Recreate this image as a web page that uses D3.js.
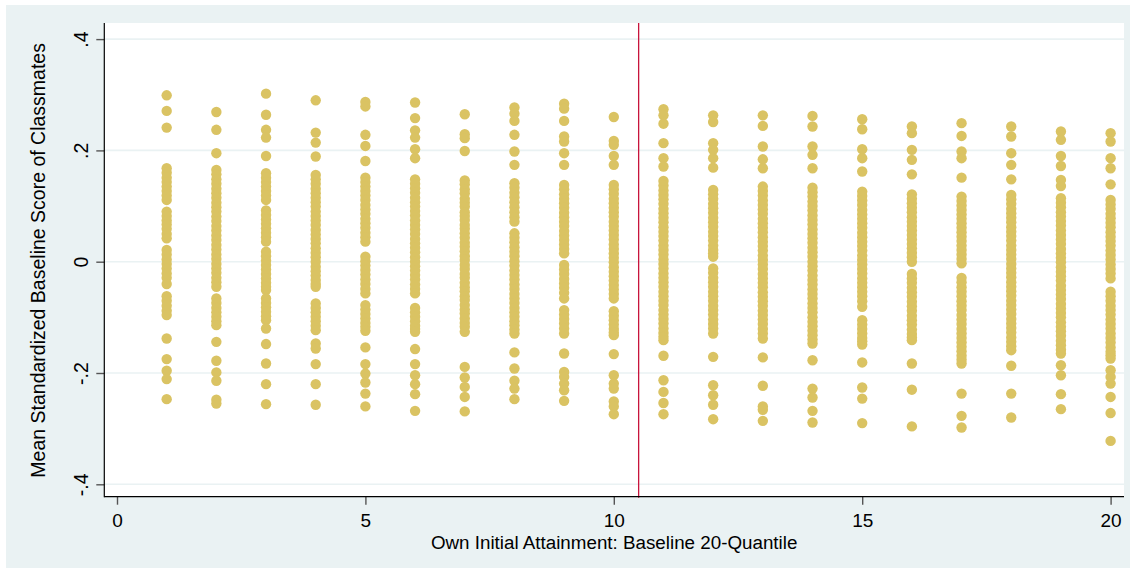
<!DOCTYPE html>
<html>
<head>
<meta charset="utf-8">
<script src="https://cdn.jsdelivr.net/npm/d3@7/dist/d3.min.js"></script>
<style>
  body { margin: 0; background: #ffffff; }
  svg { display: block; }
  text { font-family: "Liberation Sans", Arial, sans-serif; fill: #000; }
</style>
</head>
<body>
<svg id="chart" width="1135" height="572"></svg>
<script>
// Own baseline 20-quantile (x) for each column of classmates' means
const quantiles = [1, 2, 3, 4, 5, 6, 7, 8, 9, 10, 11, 12, 13, 14, 15, 16, 17, 18, 19, 20];

// Mean standardized baseline score of classmates, one list per quantile
const classmateMeans = [
  [0.299, 0.271, 0.241,
   0.168, 0.160, 0.151, 0.143, 0.135, 0.127, 0.119, 0.111,
   0.090, 0.082, 0.074, 0.067, 0.059, 0.050, 0.042,
   0.021, 0.013, 0.004, -0.004, -0.012, -0.021, -0.029, -0.040,
   -0.062, -0.070, -0.079, -0.088, -0.096,
   -0.138, -0.175, -0.196, -0.211, -0.247],
  [0.269, 0.237, 0.195,
   0.165, 0.157, 0.148, 0.140, 0.131, 0.123, 0.115, 0.106, 0.098, 0.090, 0.081, 0.073, 0.064,
   0.056, 0.047, 0.039, 0.030, 0.022, 0.013, 0.005, -0.004, -0.012, -0.020, -0.029, -0.037, -0.045,
   -0.066, -0.074, -0.083, -0.091, -0.099, -0.107, -0.114,
   -0.144, -0.178, -0.199, -0.214, -0.248, -0.255],
  [0.302, 0.264, 0.237, 0.223, 0.190,
   0.159, 0.151, 0.143, 0.135, 0.127, 0.119, 0.111,
   0.092, 0.084, 0.076, 0.068, 0.060, 0.052, 0.044, 0.036,
   0.018, 0.010, 0.002, -0.006, -0.014, -0.022, -0.030, -0.038, -0.045, -0.051,
   -0.066, -0.074, -0.082, -0.090, -0.098, -0.105, -0.120,
   -0.148, -0.183, -0.220, -0.256],
  [0.290, 0.232, 0.214, 0.189,
   0.156, 0.148, 0.140, 0.131, 0.123, 0.115, 0.107, 0.099, 0.090, 0.082, 0.074, 0.066, 0.057,
   0.049, 0.041, 0.033, 0.024, 0.016, 0.008, 0.000, -0.009, -0.017, -0.025, -0.033, -0.040, -0.045,
   -0.075, -0.083, -0.091, -0.099, -0.107, -0.115, -0.123,
   -0.147, -0.156, -0.184, -0.220, -0.257],
  [0.287, 0.279, 0.228, 0.208, 0.181,
   0.151, 0.143, 0.135, 0.127, 0.119, 0.111, 0.102, 0.094, 0.086, 0.077, 0.069, 0.061, 0.052, 0.044, 0.036,
   0.009, 0.001, -0.007, -0.015, -0.023, -0.032, -0.040, -0.049, -0.057,
   -0.078, -0.086, -0.094, -0.102, -0.110, -0.117, -0.124,
   -0.154, -0.184, -0.201, -0.217, -0.237, -0.260],
  [0.286, 0.258, 0.236, 0.223, 0.202, 0.186,
   0.148, 0.140, 0.132, 0.124, 0.115, 0.107, 0.099, 0.091, 0.083, 0.074, 0.066, 0.058, 0.050,
   0.041, 0.033, 0.025, 0.017, 0.008, 0.000, -0.008, -0.016, -0.024, -0.032, -0.041, -0.049, -0.057,
   -0.083, -0.091, -0.099, -0.107, -0.115, -0.121, -0.126,
   -0.157, -0.184, -0.204, -0.220, -0.238, -0.268],
  [0.265, 0.229, 0.222, 0.199,
   0.146, 0.139, 0.130, 0.123, 0.113, 0.106, 0.099, 0.089, 0.082, 0.075, 0.066, 0.059, 0.051, 0.043,
   0.034, 0.027, 0.019, 0.010, 0.003, -0.006, -0.013, -0.022, -0.029, -0.038, -0.046, -0.053, -0.062,
   -0.069, -0.078, -0.086, -0.093, -0.102, -0.110, -0.117, -0.126,
   -0.189, -0.208, -0.225, -0.243, -0.269],
  [0.277, 0.266, 0.253, 0.228, 0.198, 0.174,
   0.141, 0.133, 0.124, 0.116, 0.107, 0.098, 0.089, 0.080, 0.072,
   0.051, 0.043, 0.035, 0.026, 0.018, 0.010, 0.001, -0.007, -0.016, -0.024, -0.032, -0.041,
   -0.049, -0.058, -0.066, -0.074, -0.083, -0.091, -0.099, -0.107, -0.114, -0.122, -0.129,
   -0.163, -0.192, -0.214, -0.228, -0.247],
  [0.284, 0.275, 0.253, 0.225, 0.216, 0.195, 0.174,
   0.138, 0.130, 0.121, 0.113, 0.105, 0.097, 0.088, 0.080, 0.072, 0.064, 0.055, 0.047, 0.039, 0.031, 0.023, 0.015,
   -0.006, -0.014, -0.022, -0.031, -0.039, -0.047, -0.056, -0.066,
   -0.087, -0.095, -0.103, -0.111, -0.120, -0.129,
   -0.165, -0.198, -0.207, -0.219, -0.231, -0.250],
  [0.260, 0.217, 0.210, 0.190, 0.174,
   0.138, 0.130, 0.122, 0.113, 0.105, 0.097, 0.089, 0.081, 0.072, 0.064, 0.056, 0.048, 0.040,
   0.031, 0.023, 0.015, 0.007, -0.001, -0.010, -0.018, -0.026, -0.034, -0.042, -0.050, -0.058, -0.066,
   -0.089, -0.097, -0.105, -0.113, -0.121, -0.127, -0.132,
   -0.166, -0.204, -0.219, -0.228, -0.251, -0.260, -0.274],
  [0.274, 0.263, 0.248, 0.213, 0.186, 0.171,
   0.145, 0.137, 0.128, 0.120, 0.112, 0.104, 0.095, 0.087, 0.079, 0.071, 0.062, 0.054, 0.046, 0.038,
   0.029, 0.021, 0.013, 0.004, -0.004, -0.012, -0.021, -0.029, -0.037, -0.045, -0.054, -0.062,
   -0.070, -0.078, -0.087, -0.095, -0.103, -0.111, -0.120, -0.128, -0.135, -0.141,
   -0.169, -0.213, -0.234, -0.254, -0.274],
  [0.263, 0.251, 0.213, 0.201, 0.186, 0.169,
   0.129, 0.121, 0.113, 0.104, 0.096, 0.088, 0.079, 0.071, 0.063, 0.054, 0.046, 0.038, 0.029, 0.021, 0.015, 0.009,
   -0.012, -0.020, -0.029, -0.037, -0.045, -0.054, -0.062, -0.070, -0.079, -0.087, -0.095, -0.104,
   -0.112, -0.120, -0.129,
   -0.171, -0.222, -0.240, -0.257, -0.283],
  [0.263, 0.244, 0.207, 0.184, 0.168,
   0.135, 0.127, 0.119, 0.110, 0.102, 0.094, 0.086, 0.077, 0.069, 0.061, 0.053, 0.044, 0.036, 0.028,
   0.020, 0.011, 0.003, -0.005, -0.013, -0.022, -0.030, -0.038, -0.046, -0.055, -0.063, -0.071,
   -0.079, -0.088, -0.096, -0.104, -0.112, -0.121, -0.129, -0.138,
   -0.172, -0.223, -0.260, -0.266, -0.286],
  [0.262, 0.243, 0.207, 0.192, 0.168,
   0.133, 0.125, 0.117, 0.108, 0.100, 0.092, 0.083, 0.075, 0.067, 0.058, 0.050, 0.042, 0.034, 0.025,
   0.017, 0.009, 0.000, -0.008, -0.016, -0.025, -0.033, -0.041, -0.050, -0.058, -0.066, -0.075,
   -0.083, -0.091, -0.100, -0.108, -0.116, -0.124, -0.132, -0.140, -0.147,
   -0.177, -0.228, -0.244, -0.268, -0.289],
  [0.256, 0.238, 0.202, 0.186, 0.162,
   0.126, 0.118, 0.110, 0.102, 0.093, 0.085, 0.077, 0.069, 0.061, 0.052, 0.044, 0.036, 0.028,
   0.020, 0.011, 0.003, -0.005, -0.013, -0.021, -0.030, -0.038, -0.046, -0.054, -0.062, -0.071, -0.081,
   -0.105, -0.113, -0.121, -0.129, -0.137, -0.143, -0.149,
   -0.181, -0.226, -0.246, -0.290],
  [0.243, 0.231, 0.201, 0.183, 0.157,
   0.121, 0.113, 0.105, 0.097, 0.089, 0.080, 0.072, 0.064, 0.056, 0.048, 0.040, 0.032, 0.024, 0.016, 0.008, 0.000,
   -0.022, -0.030, -0.038, -0.047, -0.055, -0.063, -0.072, -0.080, -0.088, -0.097, -0.105, -0.113,
   -0.122, -0.130, -0.136, -0.141,
   -0.183, -0.230, -0.296],
  [0.249, 0.226, 0.198, 0.186, 0.151,
   0.117, 0.109, 0.101, 0.093, 0.085, 0.077, 0.069, 0.061, 0.053, 0.045, 0.037, 0.029, 0.021, 0.013, 0.005, -0.003,
   -0.029, -0.037, -0.046, -0.054, -0.062, -0.071, -0.079, -0.087, -0.096, -0.104, -0.112, -0.121,
   -0.129, -0.137, -0.145, -0.153, -0.161, -0.169, -0.176, -0.183,
   -0.237, -0.277, -0.298],
  [0.243, 0.225, 0.195, 0.174, 0.148,
   0.120, 0.112, 0.104, 0.095, 0.087, 0.079, 0.071, 0.062, 0.054, 0.046, 0.038, 0.029, 0.021, 0.013,
   0.005, -0.004, -0.012, -0.020, -0.028, -0.037, -0.045, -0.053, -0.061, -0.070, -0.078, -0.086,
   -0.094, -0.103, -0.111, -0.119, -0.127, -0.136, -0.144, -0.152, -0.159,
   -0.187, -0.237, -0.280],
  [0.234, 0.219, 0.190, 0.172, 0.147, 0.136,
   0.114, 0.106, 0.098, 0.089, 0.081, 0.073, 0.065, 0.056, 0.048, 0.040, 0.032, 0.023, 0.015, 0.007,
   -0.001, -0.010, -0.018, -0.026, -0.034, -0.043, -0.051, -0.059, -0.067, -0.076, -0.084, -0.092,
   -0.100, -0.109, -0.117, -0.125, -0.133, -0.142, -0.150, -0.158, -0.165,
   -0.186, -0.204, -0.238, -0.265],
  [0.231, 0.216, 0.186, 0.168, 0.139,
   0.111, 0.103, 0.095, 0.086, 0.078, 0.070, 0.062, 0.053, 0.045, 0.037, 0.029, 0.020, 0.012, 0.004,
   -0.005, -0.013, -0.021, -0.030,
   -0.054, -0.062, -0.070, -0.079, -0.087, -0.095, -0.104, -0.112, -0.120, -0.129, -0.137, -0.145,
   -0.154, -0.162, -0.168, -0.174,
   -0.195, -0.207, -0.219, -0.243, -0.272, -0.322]
];

const xTicks = [0, 5, 10, 15, 20];
const yTicks = [0.4, 0.2, 0, -0.2, -0.4];
const yTickLabels = [".4", ".2", "0", "-.2", "-.4"];
const cutoff = 10.5;
const xTitle = "Own Initial Attainment: Baseline 20-Quantile";
const yTitle = "Mean Standardized Baseline Score of Classmates";

// Colours
const BG = "#eaf2f3";
const DOT = "#dac363";
const CUT = "#c8143c";

const svg = d3.select("#chart");

// Plot region
const plot = { left: 104.3, right: 1124, top: 23, bottom: 496.7 };

const x = d3.scaleLinear().domain([0, 20]).range([117, 1110.6]);
const y = d3.scaleLinear().domain([-0.4, 0.4]).range([484.3, 39.1]);

// Graph region background
svg.append("rect").attr("x", 6).attr("y", 5).attr("width", 1124).attr("height", 563).attr("fill", BG);
svg.append("rect")
  .attr("x", plot.left).attr("y", plot.top)
  .attr("width", plot.right - plot.left).attr("height", plot.bottom - plot.top)
  .attr("fill", "#ffffff");

// Horizontal grid
svg.append("g").selectAll("line").data(yTicks).join("line")
  .attr("x1", plot.left).attr("x2", plot.right)
  .attr("y1", d => y(d)).attr("y2", d => y(d))
  .attr("stroke", BG).attr("stroke-width", 1.6);

// Points
const points = quantiles.flatMap((q, i) => classmateMeans[i].map(v => ({ q, v })));
svg.append("g").selectAll("circle").data(points).join("circle")
  .attr("cx", d => x(d.q)).attr("cy", d => y(d.v)).attr("r", 5.2)
  .attr("fill", DOT);

// Threshold line
svg.append("line")
  .attr("x1", x(cutoff)).attr("x2", x(cutoff))
  .attr("y1", plot.top).attr("y2", plot.bottom + 1)
  .attr("stroke", CUT).attr("stroke-width", 1.3);

// Y axis
const yAxis = svg.append("g").attr("transform", `translate(${plot.left},0)`)
  .call(d3.axisLeft(y).tickValues(yTicks).tickSize(8).tickFormat((d, i) => yTickLabels[i]));
yAxis.select(".domain").remove();
yAxis.selectAll(".tick line").attr("stroke", "#555").attr("stroke-width", 1.4);
yAxis.selectAll(".tick text")
  .attr("x", null).attr("dy", null)
  .attr("transform", "translate(-16.3,0) rotate(-90)")
  .attr("text-anchor", "middle")
  .style("font-size", "19.5px")
  .style("font-family", "'Liberation Sans', Arial, sans-serif")
  .attr("fill", "#000");

// X axis
const xAxis = svg.append("g").attr("transform", `translate(0,${plot.bottom})`)
  .call(d3.axisBottom(x).tickValues(xTicks).tickSize(8).tickFormat(d3.format("d")));
xAxis.select(".domain").remove();
xAxis.selectAll(".tick line").attr("stroke", "#555").attr("stroke-width", 1.4);
xAxis.selectAll(".tick text")
  .attr("y", 30.3).attr("dy", null)
  .style("font-size", "19px")
  .style("font-family", "'Liberation Sans', Arial, sans-serif")
  .attr("fill", "#000");

// Axis lines
svg.append("line").attr("x1", plot.left).attr("x2", plot.left)
  .attr("y1", plot.top).attr("y2", plot.bottom + 0.5)
  .attr("stroke", "#000").attr("stroke-width", 1.2);
svg.append("line").attr("x1", plot.left).attr("x2", plot.right)
  .attr("y1", plot.bottom).attr("y2", plot.bottom)
  .attr("stroke", "#000").attr("stroke-width", 1.2);

// Axis titles
svg.append("text")
  .attr("x", (plot.left + plot.right) / 2).attr("y", 548.5)
  .attr("text-anchor", "middle")
  .style("font-size", "18.8px")
  .text(xTitle);
svg.append("text")
  .attr("transform", `translate(45,${(plot.top + plot.bottom) / 2 + 0.5}) rotate(-90)`)
  .attr("text-anchor", "middle")
  .style("font-size", "19.5px")
  .text(yTitle);
</script>
</body>
</html>
